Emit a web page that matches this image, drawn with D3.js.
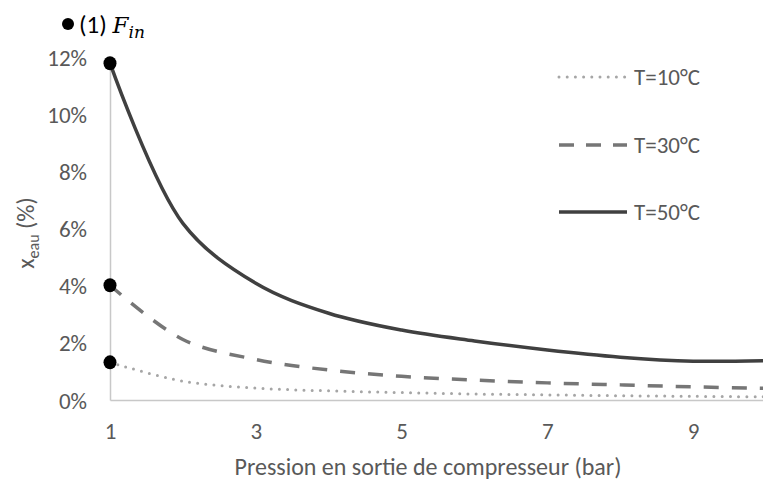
<!DOCTYPE html>
<html>
<head>
<meta charset="utf-8">
<script src="https://cdn.jsdelivr.net/npm/d3@7"></script>
<style>
  html, body { margin: 0; padding: 0; background: #fff; }
  svg { display: block; }
  text { font-family: Carlito, Calibri, Lato, "Open Sans", sans-serif; fill: #595959; }
</style>
</head>
<body>
<svg id="chart" width="763" height="486"></svg>
<script>
// ---- data ----
const pressures = [1, 2, 3, 4, 5, 6, 7, 8, 9, 10];
const seriesNames = ["T=10°C", "T=30°C", "T=50°C"];
const t10 = [1.32, 0.66, 0.42, 0.32, 0.26, 0.21, 0.18, 0.15, 0.13, 0.11];
const t30 = [4.02, 2.12, 1.42, 1.05, 0.83, 0.70, 0.60, 0.53, 0.46, 0.41];
const t50 = [11.8, 6.19, 4.09, 3.04, 2.45, 2.07, 1.75, 1.50, 1.36, 1.38];
const xTicks = [1, 3, 5, 7, 9];
const yTicks = [0, 2, 4, 6, 8, 10, 12];
const xTitle = "Pression en sortie de compresseur (bar)";

// ---- scales ----
const svg = d3.select("#chart");
const x = d3.scaleLinear().domain([1, 10]).range([110, 766]);
const y = d3.scaleLinear().domain([0, 12]).range([400, 57.5]);

const styles = [
  { color: "#A6A6A6", width: 3, dash: "0,8.2", cap: "round" },
  { color: "#767676", width: 3.5, dash: "15,13", cap: "butt" },
  { color: "#404040", width: 3.5, dash: null, cap: "butt" }
];
const data = [t10, t30, t50];

const FS = 23;

// axes
const axisColor = "#C8C8C8";
const xAxis = d3.axisBottom(x).tickValues(xTicks).tickSize(0).tickFormat(d3.format("d"));
const gx = svg.append("g").attr("transform", `translate(0,${y(0)})`).call(xAxis);
gx.select(".domain").attr("stroke", axisColor).attr("stroke-width", 1.5);
gx.selectAll("text").style("font-size", FS + "px").attr("fill", "#595959").attr("dy", "0.35em").attr("y", 31);

const yAxis = d3.axisLeft(y).tickValues(yTicks).tickSize(0).tickFormat(d => d + "%");
const gy = svg.append("g").attr("transform", `translate(${x(1)},0)`).call(yAxis);
gy.select(".domain").attr("stroke", axisColor).attr("stroke-width", 1.5);
gy.selectAll("text").style("font-size", FS + "px").attr("fill", "#595959").attr("x", -23).attr("dy", "0.35em").attr("text-anchor", "end");

// lines
const line = d3.line().x((d, i) => x(pressures[i])).y(d => y(d)).curve(d3.curveCatmullRom.alpha(0.5));
data.forEach((vals, k) => {
  svg.append("path")
    .attr("d", line(vals))
    .attr("fill", "none")
    .attr("stroke", styles[k].color)
    .attr("stroke-width", styles[k].width)
    .attr("stroke-linecap", styles[k].cap)
    .attr("stroke-dasharray", styles[k].dash);
});

// start markers
data.forEach(vals => {
  svg.append("ellipse")
    .attr("cx", x(pressures[0]))
    .attr("cy", y(vals[0]))
    .attr("rx", 6.5).attr("ry", 7)
    .attr("fill", "#000");
});

// legend
const legendY = [77, 145, 212];
seriesNames.forEach((name, k) => {
  svg.append("line")
    .attr("x1", 559).attr("x2", 627)
    .attr("y1", legendY[k]).attr("y2", legendY[k])
    .attr("stroke", styles[k].color)
    .attr("stroke-width", styles[k].width)
    .attr("stroke-linecap", styles[k].cap)
    .attr("stroke-dasharray", k === 1 ? "15,12" : styles[k].dash);
  svg.append("text")
    .attr("x", 634).attr("y", legendY[k]).attr("dy", "0.35em")
    .style("font-size", FS + "px")
    .text(name);
});

// axis titles
svg.append("text")
  .attr("x", 428).attr("y", 467).attr("dy", "0.35em")
  .attr("text-anchor", "middle")
  .style("font-size", "24px")
  .text(xTitle);

const yt = svg.append("text")
  .attr("transform", "translate(26,233) rotate(-90)")
  .attr("text-anchor", "middle")
  .attr("dy", "0.35em")
  .style("font-size", "24px");
yt.append("tspan").text("x");
yt.append("tspan").attr("dy", "5").style("font-size", "16px").text("eau");
yt.append("tspan").attr("dy", "-5").text(" (%)");

// top annotation
svg.append("circle").attr("cx", 68).attr("cy", 24).attr("r", 6).attr("fill", "#000");
const ann = svg.append("text").attr("x", 79).attr("y", 24).attr("dy", "0.35em").style("font-size", "25px");
ann.append("tspan").style("fill", "#000").text("(1) ");
ann.append("tspan").style("fill", "#000").style("font-family", "'DejaVu Serif', 'Liberation Serif', serif").style("font-style", "italic").style("font-size", "23px").text("F");
ann.append("tspan").style("fill", "#000").attr("dy", "5").style("font-family", "'DejaVu Serif', 'Liberation Serif', serif").style("font-style", "italic").style("font-size", "17px").text("in");
</script>
</body>
</html>
